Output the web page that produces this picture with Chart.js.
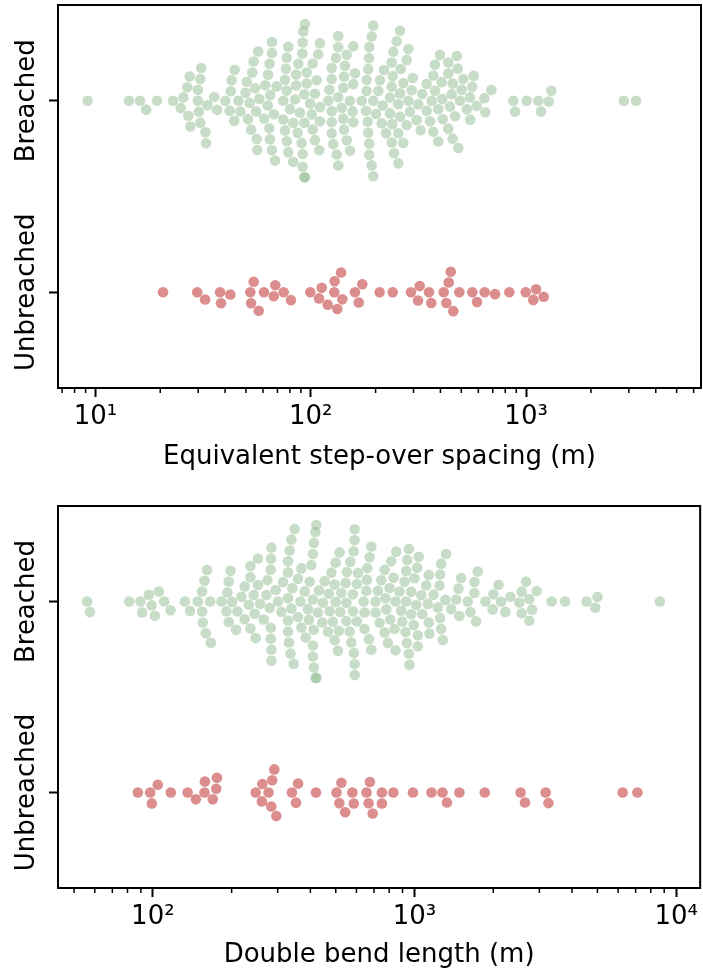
<!DOCTYPE html>
<html>
<head>
<meta charset="utf-8">
<script src="https://cdn.jsdelivr.net/npm/chart.js@4/dist/chart.umd.min.js"></script>
<style>
  body { margin: 0; background: #fff; }
  #wrap { position: relative; width: 703px; height: 978px; }
  canvas { position: absolute; left: 0; }
</style>
</head>
<body>
<div id="wrap">
  <canvas id="stepChart" width="703" height="490" style="top:0"></canvas>
  <canvas id="bendChart" width="703" height="488" style="top:490px"></canvas>
</div>
<script>
const categories = ["Breached", "Unbreached"];

// equivalent step-over spacing (m)
const stepBreached = [
  9.2, 14.3, 16.1, 17.2, 19.3, 22.9, 24.9, 25.6, 26.7, 27.4, 27.0, 27.6, 29.9, 29.9, 30.2, 30.7, 31.0, 30.7,
  32.6, 32.4, 33.1, 35.6, 36.7, 40.1, 42.0, 42.5, 42.9, 44.1, 44.3, 46.1, 47.1, 49.8, 50.4, 51.1, 52.0, 52.9,
  53.5, 54.3, 55.2, 55.8, 56.1, 56.4, 57.0, 57.7, 60.8, 61.5, 63.1, 63.3, 64.2, 64.4, 64.6, 64.8, 66.0, 66.0,
  66.0, 68.2, 69.4, 67.5,
  76.7, 77.3, 74.5, 78.6, 77.3, 75.9, 78.6, 75.9, 74.5, 77.3,
  82.9, 85.4, 84.5, 89.1, 87.5, 80.1, 90.7, 85.4, 82.9, 86.9,
  95.7, 93.3, 93.3, 91.7, 91.7, 94.0, 91.7, 99.2, 91.3, 92.3, 93.3, 94.0, 95.7,
  110.3, 110.3, 104.6, 102.0, 101.0, 106.5, 109.5, 102.0, 104.6, 108.4, 110.3,
  134.2, 131.9, 125.1, 125.1, 125.1, 130.9, 120.6, 134.2, 121.9, 134.2, 125.1, 125.1, 127.2, 134.2,
  146.9, 142.7, 157.5, 141.6, 156.5, 139.2, 157.5, 146.9, 152.1, 152.1, 141.6, 157.5, 144.2, 142.7, 160.4,
  195.1, 195.1, 191.8, 186.9, 184.9, 181.8, 180.4, 172.3, 186.9, 181.8, 184.9, 183.7, 186.3, 186.9, 191.8, 195.1,
  200.9, 209.6, 213.5, 223.6, 237.6, 205.9, 233.3, 218.8, 233.3, 215.8, 237.6, 237.6, 239.1, 241.7,
  259.6, 243.6, 240.2, 268.9, 254.9, 259.6, 254.9, 250.6, 278.9, 278.9, 254.9, 283.8, 261.6, 288.9, 268.9, 259.6,
  297.4, 283.8, 294.2, 315.7, 310.4, 323.9, 345.3, 329.5, 345.3,
  377.6, 370.7, 357.9, 377.6, 364.4, 370.7, 391.1, 408.2, 410, 405.5, 398.2, 391.1,
  484.2, 481.1, 443.2, 456.2, 451.3, 435.2, 467.5, 435.2, 435.2, 476.1, 456.2, 502.2,
  510.9, 493.3, 529.8,
  562.5, 571, 549, 550, 589.7, 646.4, 639.5, 689.3, 872.1, 888.2, 1006, 1139, 1173, 1274, 1309, 2841, 3239
];
const stepUnbreached = [
  20.6, 29.7, 32.3, 37.9, 38.3, 42.3, 54.3, 52.4, 52.8, 57.3, 60.6, 68.4, 67.3, 74.8, 80.9, 99.5, 112.4,
  109.2, 119.8, 129.1, 138.2, 128.6, 132.8, 140.1, 160.4, 173.4, 167.0, 208.9, 240.2, 292.0, 320.5, 314.7,
  354.0, 362.8, 414.4, 437.0, 446.6, 426.0, 459.2, 489.4, 562.5, 591.6, 642.2, 717.3, 835.6, 995.9, 1112,
  1080, 1207
];

// double bend length (m)
const bendBreached = [
  56.1, 57.5, 81.2, 89.7, 96.5, 98.9, 91.0, 105.4, 101.8, 110.4, 116.8, 132.5, 138.8, 148.5, 154.2, 155.2,
  159.3, 166.5, 154.2, 157.5, 161.2, 165.5, 182.9, 191.1, 192.8, 195.0, 198.0, 195.0, 200.8, 208.0, 210.5,
  218.0, 224.4, 224.4, 232.5, 236.0, 236.0, 236.0, 242.9, 245.1, 247.2, 252.3, 252.3, 256.8, 265.3, 271.6,
  274.1, 279.7, 282.2, 282.2, 282.9, 282.2, 283.9, 283.9, 283.9,
  314.4, 310.0, 300.8, 294.8, 328.5, 328.5, 328.5, 333.4, 338.5, 345.4, 348.3, 341.4, 335.5, 331.3, 328.5,
  338.5, 328.5, 358.6, 369.5, 369.5, 366.3, 358.6, 380.3, 383.7, 409.0, 409.0, 411.5, 417.8, 418.9, 412.6,
  412.6, 409.0, 395.0, 409.0, 403.4, 391.5, 397.4, 421.5, 427.5, 431.2, 421.5, 446.7, 444.4, 453.5, 466.8,
  470.9, 480.9, 473.8, 487.8, 495.1, 499.4, 495.1, 499.4, 517.3, 514.1, 509.6, 520.5, 525.1, 545.4, 548.8,
  548.8, 551.7, 564.9, 573.4, 568.4, 581.6, 590.4, 585.3, 581.6, 602.4, 590.4, 590.4, 586.8, 590.4, 602.4,
  607.7, 644.6, 644.6, 638.9, 657.7, 654.2, 660.1, 673.5, 669.4, 683.6, 683.6, 709.9, 709.9, 724.4, 746.4,
  768.4, 775.2, 768.4, 735.4, 779.9, 790.9, 802.9, 807.9, 815.0, 846.4, 851.6, 831.5, 846.4, 839.0, 876.6,
  889.8, 897.8, 916.0, 924.1, 934.8, 929.8, 938.0, 951.1, 971.1, 1000, 971.1, 951.1, 929.8, 957.0, 993.9,
  1024, 1015, 1029, 1029, 1038, 1061, 1070, 1108, 1134, 1134, 1124, 1141, 1182, 1227, 1246, 1264, 1253,
  1253, 1282, 1264, 1313, 1321, 1381, 1443, 1472, 1485, 1507, 1597,
  1720, 1694, 1636, 1694, 1744, 1866, 2002, 1990, 2093, 2142, 2225, 2325, 2517, 2568, 2669, 2748, 2568,
  2814, 2748, 2930, 3342, 3760, 4546, 5007, 4907, 8666
];
const bendUnbreached = [
  87.6, 97.7, 99.1, 104.4, 117.1, 135.8, 146.0, 157.5, 158.1, 169.4, 174.6, 175.7, 247.2, 262.0, 261.1,
  276.7, 285.8, 291.1, 283.4, 296.5, 339.9, 358.9, 352.4, 420.1, 503.4, 525.5, 515.9, 543.4, 578.9, 586.1,
  655.4, 675.3, 667.6, 692.1, 750.7, 750.7, 830.2, 986.0, 1161, 1279, 1331, 1484, 1856, 2543, 2643, 3171,
  3250, 6244, 7110
];

const stepRange = [6.7, 6490];
const bendRange = [43.4, 12350];
const stepTicks = [10, 100, 1000];
const bendTicks = [100, 1000, 10000];

const green = "rgba(143, 188, 143, 0.5)";
const red = "rgba(205, 92, 92, 0.7)";
const fontName = "DejaVu Sans";
const sup = ["⁰", "¹", "²", "³", "⁴", "⁵"];

function tickLabel(v) {
  return "10" + sup[Math.round(Math.log10(v))];
}

// box, minor ticks and the rotated category names
const axesDecor = {
  id: "axesDecor",
  afterDraw(chart) {
    const ctx = chart.ctx;
    const a = chart.chartArea;
    const xs = chart.scales.x;
    const ys = chart.scales.y;
    ctx.save();
    ctx.strokeStyle = "#000";
    ctx.lineWidth = 1.5;
    const k0 = Math.floor(Math.log10(xs.min));
    const k1 = Math.ceil(Math.log10(xs.max));
    for (let k = k0; k <= k1; k++) {
      for (let m = 2; m <= 9; m++) {
        const v = m * Math.pow(10, k);
        if (v < xs.min || v > xs.max) continue;
        const px = xs.getPixelForValue(v);
        ctx.beginPath();
        ctx.moveTo(px, a.bottom);
        ctx.lineTo(px, a.bottom + 5);
        ctx.stroke();
      }
    }
    ctx.lineWidth = 2;
    ctx.strokeRect(a.left, a.top, a.right - a.left, a.bottom - a.top);
    ctx.fillStyle = "#000";
    ctx.font = "26px '" + fontName + "'";
    ctx.textAlign = "center";
    ctx.textBaseline = "alphabetic";
    categories.forEach((c, i) => {
      ctx.save();
      ctx.translate(34, ys.getPixelForValue(i));
      ctx.rotate(-Math.PI / 2);
      ctx.fillText(c, 0, 0);
      ctx.restore();
    });
    ctx.restore();
  }
};

// seaborn-like beeswarm, in pixels along the category axis
function swarmOffsets(values, xs, diam) {
  const pts = values.map((v, i) => ({ i: i, px: xs.getPixelForValue(v), off: 0 }));
  pts.sort((a, b) => a.px - b.px);
  const placed = [];
  pts.forEach((p) => {
    const near = placed.filter((q) => Math.abs(q.px - p.px) < diam);
    const cands = [0];
    near.forEach((q) => {
      const dx = p.px - q.px;
      const dy = Math.sqrt(diam * diam - dx * dx) * 1.05;
      cands.push(q.off + dy, q.off - dy);
    });
    cands.sort((a, b) => Math.abs(a) - Math.abs(b) || b - a);
    const ok = cands.find((c) =>
      near.every((q) => (q.px - p.px) ** 2 + (q.off - c) ** 2 >= diam * diam - 0.01));
    p.off = ok === undefined ? 0 : ok;
    placed.push(p);
  });
  const out = [];
  pts.forEach((p) => { out[p.i] = p.off; });
  return out;
}

function applySwarm(chart, lists) {
  const xs = chart.scales.x;
  const ys = chart.scales.y;
  const unit = ys.getPixelForValue(1) - ys.getPixelForValue(0);
  const limit = 0.4 * unit;
  chart.data.datasets.forEach((ds, k) => {
    const offs = swarmOffsets(lists[k], xs, 10.5);
    ds.data = lists[k].map((v, i) => ({
      x: v,
      y: k + Math.max(-limit, Math.min(limit, offs[i])) / unit
    }));
  });
  chart.update("none");
}

function makeChart(id, breached, unbreached, range, ticks, title, plotTop, plotBottom, titlePad) {
  const canvas = document.getElementById(id);
  const h = canvas.height;
  const chart = new Chart(canvas, {
    type: "scatter",
    data: {
      datasets: [
        { label: categories[0], data: breached.map((v) => ({ x: v, y: 0 })),
          backgroundColor: green, borderWidth: 0, pointRadius: 5.3 },
        { label: categories[1], data: unbreached.map((v) => ({ x: v, y: 1 })),
          backgroundColor: red, borderWidth: 0, pointRadius: 5.3 }
      ]
    },
    options: {
      responsive: false,
      animation: false,
      devicePixelRatio: 1,
      layout: { autoPadding: false, padding: { top: plotTop, right: 2, left: 0, bottom: 0 } },
      plugins: { legend: { display: false }, tooltip: { enabled: false } },
      scales: {
        x: {
          type: "logarithmic",
          min: range[0],
          max: range[1],
          bounds: "data",
          afterBuildTicks: (s) => { s.ticks = ticks.map((v) => ({ value: v })); },
          afterFit: (s) => { s.height = h - plotBottom; },
          ticks: {
            autoSkip: false, maxRotation: 0, color: "#000", padding: 5,
            font: { family: fontName, size: 26 },
            callback: (v) => tickLabel(v)
          },
          grid: { drawOnChartArea: false, tickLength: 9, tickWidth: 2, tickColor: "#000" },
          border: { display: false },
          title: {
            display: true, text: title, color: "#000",
            font: { family: fontName, size: 26, lineHeight: 1.2 },
            padding: { top: 0, bottom: titlePad }
          }
        },
        y: {
          type: "linear",
          min: -0.5,
          max: 1.5,
          reverse: true,
          afterBuildTicks: (s) => { s.ticks = [{ value: 0 }, { value: 1 }]; },
          afterFit: (s) => { s.width = 58; },
          ticks: { display: false },
          grid: { drawOnChartArea: false, tickLength: 9, tickWidth: 2, tickColor: "#000" },
          border: { display: false }
        }
      }
    },
    plugins: [axesDecor]
  });
  applySwarm(chart, [breached, unbreached]);
  return chart;
}

makeChart("stepChart", stepBreached, stepUnbreached, stepRange, stepTicks,
  "Equivalent step-over spacing (m)", 5, 388, 17);
makeChart("bendChart", bendBreached, bendUnbreached, bendRange, bendTicks,
  "Double bend length (m)", 16, 398, 7);
</script>
</body>
</html>
